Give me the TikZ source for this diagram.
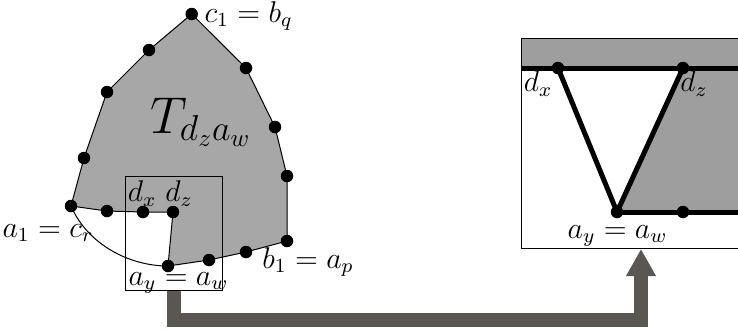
\documentclass[tikz,border=0pt]{standalone}
\usetikzlibrary{arrows.meta}

\definecolor{regiongray}{RGB}{167,167,167}
\definecolor{panelgray}{RGB}{158,158,158}
\definecolor{linkgray}{RGB}{90,86,81}

\tikzset{
    dot/.style={circle, fill=black, inner sep=0pt, minimum size=5pt},
    thinedge/.style={line width=0.4pt},
    thickedge/.style={line width=2pt},
    tag/.style={font=\fontsize{11.5pt}{14pt}\selectfont, inner sep=0pt},
    link/.style={draw=linkgray, line width=5.6pt, -{Triangle[width=11.2pt, length=10.8pt]}},
}

\begin{document}
\begin{tikzpicture}[x=0.4pt, y=-0.4pt]
    \useasboundingbox (0, 0) rectangle (738, 329);

    % the region, left
    \coordinate (c1) at (191.7, 14);
    \coordinate (r3) at (246, 68);
    \coordinate (r2) at (275, 127);
    \coordinate (r1) at (287, 176);
    \coordinate (b1) at (287, 241);
    \coordinate (v2) at (246, 252);
    \coordinate (v1) at (209, 260);
    \coordinate (ay) at (168, 266);
    \coordinate (dz) at (173, 212);
    \coordinate (dx) at (143, 212);
    \coordinate (w1) at (107, 211);
    \coordinate (a1) at (71, 206);
    \coordinate (u3) at (84, 158);
    \coordinate (u2) at (107, 92);
    \coordinate (u1) at (149, 50);

    \filldraw[fill=regiongray, thinedge] (c1) -- (r3) -- (r2) -- (r1) -- (b1) -- (v2) -- (v1)
        -- (ay) -- (dz) -- (dx) -- (w1) -- (a1) -- (u3) -- (u2) -- (u1) -- cycle;
    \draw[thinedge] (a1) .. controls (88, 245) and (130, 266) .. (ay);

    \node[draw, thinedge, minimum width=38.8pt, minimum height=45.6pt] (zoombox) at (173.5, 233) {};

    \foreach \p in {c1, r3, r2, r1, b1, v2, v1, ay, dz, dx, w1, a1, u3, u2, u1}
        \node[dot] (\p-dot) at (\p) {};

    \node[tag, anchor=base west] (lc1) at (204, 22) {$c_1 = b_q$};
    \node[anchor=base] (lT) at (201, 133) {\fontsize{19.7pt}{23pt}\selectfont $T_{d_z a_w}$};
    \node[tag, anchor=base] (ldx) at (142, 201.7) {$d_x$};
    \node[tag, anchor=base] (ldz) at (179, 201.7) {$d_z$};
    \node[tag, anchor=base] (lay) at (178.5, 285) {$a_y = a_w$};
    \node[tag, anchor=base] (la1) at (48, 237) {$a_1 = c_r$};
    \node[tag, anchor=base] (lb1) at (308, 268) {$b_1 = a_p$};

    % the close-up, right
    \coordinate (Pl) at (521, 68);
    \coordinate (Pr) at (740, 68);
    \coordinate (Qr) at (740, 212);
    \coordinate (Dx) at (558, 68);
    \coordinate (Dz) at (683, 68);
    \coordinate (Ay) at (617, 212);
    \coordinate (Aw) at (683, 212);

    \fill[panelgray] (521, 38.3) rectangle (Pr);
    \fill[panelgray] (Dz) -- (Pr) -- (Qr) -- (Ay) -- cycle;
    \draw[thickedge] (Pl) -- (Pr);
    \draw[thickedge] (Dx) -- (Ay) -- (Dz);
    \draw[thickedge] (Ay) -- (Qr);

    \node[draw, thinedge, minimum width=87.8pt, minimum height=84.1pt] (panel) at (630.8, 143.4) {};

    \foreach \p in {Dx, Dz, Ay, Aw}
        \node[dot] (\p-dot) at (\p) {};

    \node[tag, anchor=base] (lDx) at (538, 91.7) {$d_x$};
    \node[tag, anchor=base] (lDz) at (694, 91.7) {$d_z$};
    \node[tag, anchor=base] (lAy) at (617.5, 238) {$a_y = a_w$};

    % link between the two
    \coordinate (bend) at (641, 320);
    \draw[link] (zoombox.south) |- (bend) -- (bend |- panel.south);
\end{tikzpicture}
\end{document}
